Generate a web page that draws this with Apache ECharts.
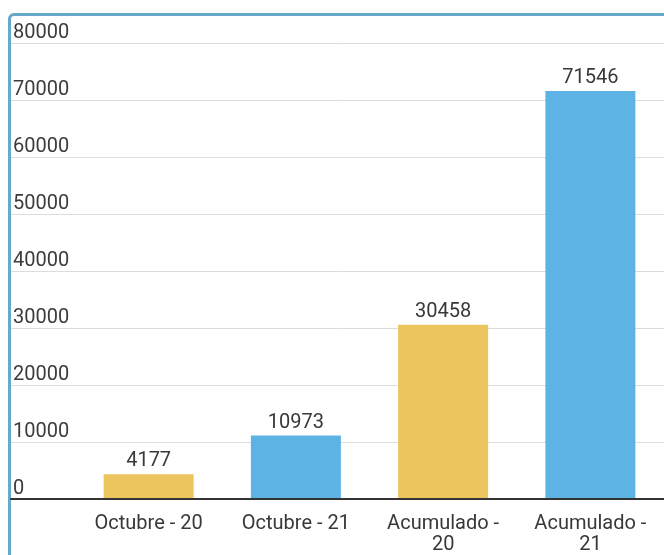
<!DOCTYPE html>
<html>
<head>
<meta charset="utf-8">
<script src="https://cdn.jsdelivr.net/npm/echarts@6/dist/echarts.min.js"></script>
<style>
    html, body { margin: 0; padding: 0; background: #fff; }
    #frame {
        position: absolute; left: 8px; top: 13px;
        width: 680px; height: 580px;
        border: 3px solid #67a9c9; border-radius: 6px;
        box-sizing: border-box;
    }
    #chart { position: absolute; left: 0; top: 0; width: 664px; height: 555px; }
</style>
</head>
<body>
<div id="frame"></div>
<div id="chart"></div>
<script>
'use strict';
// datos
var categories = ['Octubre - 20', 'Octubre - 21', 'Acumulado - 20', 'Acumulado - 21'];
var values = [4177, 10973, 30458, 71546];
var barColors = ['#ecc55e', '#5db3e3', '#ecc55e', '#5db3e3'];
var yTicks = [0, 10000, 20000, 30000, 40000, 50000, 60000, 70000, 80000];

var myChart = echarts.init(document.getElementById('chart'));
var font = 'Roboto, "Noto Sans", sans-serif';

var option = {
    animation: false,
    textStyle: { fontFamily: font },
    grid: [
        // barras
        { left: 75, right: -3, top: 43, bottom: 56 },
        // lineas de fondo y etiquetas
        { left: 11, right: 0, top: 43, bottom: 56 }
    ],
    xAxis: [
        {
            type: 'category', gridIndex: 0, data: categories,
            axisLine: { show: false }, axisTick: { show: false },
            axisLabel: {
                color: '#383838', fontSize: 20, margin: 15, lineHeight: 21,
                interval: 0,
                formatter: function (v) {
                    return v.length > 12 ? v.replace(' - ', ' -\n') : v;
                }
            }
        },
        {
            type: 'value', gridIndex: 1, min: 0, max: 1,
            axisLine: { show: true, onZero: false, lineStyle: { color: '#333', width: 2 } },
            axisTick: { show: false }, axisLabel: { show: false }, splitLine: { show: false }
        }
    ],
    yAxis: [
        {
            type: 'value', gridIndex: 0, min: yTicks[0], max: yTicks[yTicks.length - 1], interval: 10000,
            axisLabel: { show: false }, splitLine: { show: false }, axisLine: { show: false }
        },
        {
            type: 'value', gridIndex: 1, min: yTicks[0], max: yTicks[yTicks.length - 1], interval: 10000,
            axisLine: { show: false }, axisTick: { show: false },
            axisLabel: {
                inside: true, align: 'left', verticalAlign: 'bottom', margin: 2,
                color: '#3c3c3c', fontSize: 20, padding: 0,
                formatter: function (v) { return String(v); }
            },
            splitLine: { lineStyle: { color: '#dcdcdc' } }
        }
    ],
    series: [
        {
            type: 'bar', xAxisIndex: 0, yAxisIndex: 0,
            barWidth: 90,
            data: values.map(function (v, i) {
                return { value: v, itemStyle: { color: barColors[i] } };
            }),
            label: { show: true, position: 'top', distance: 3, color: '#383838', fontSize: 20 }
        }
    ]
};
myChart.setOption(option);
</script>
</body>
</html>
